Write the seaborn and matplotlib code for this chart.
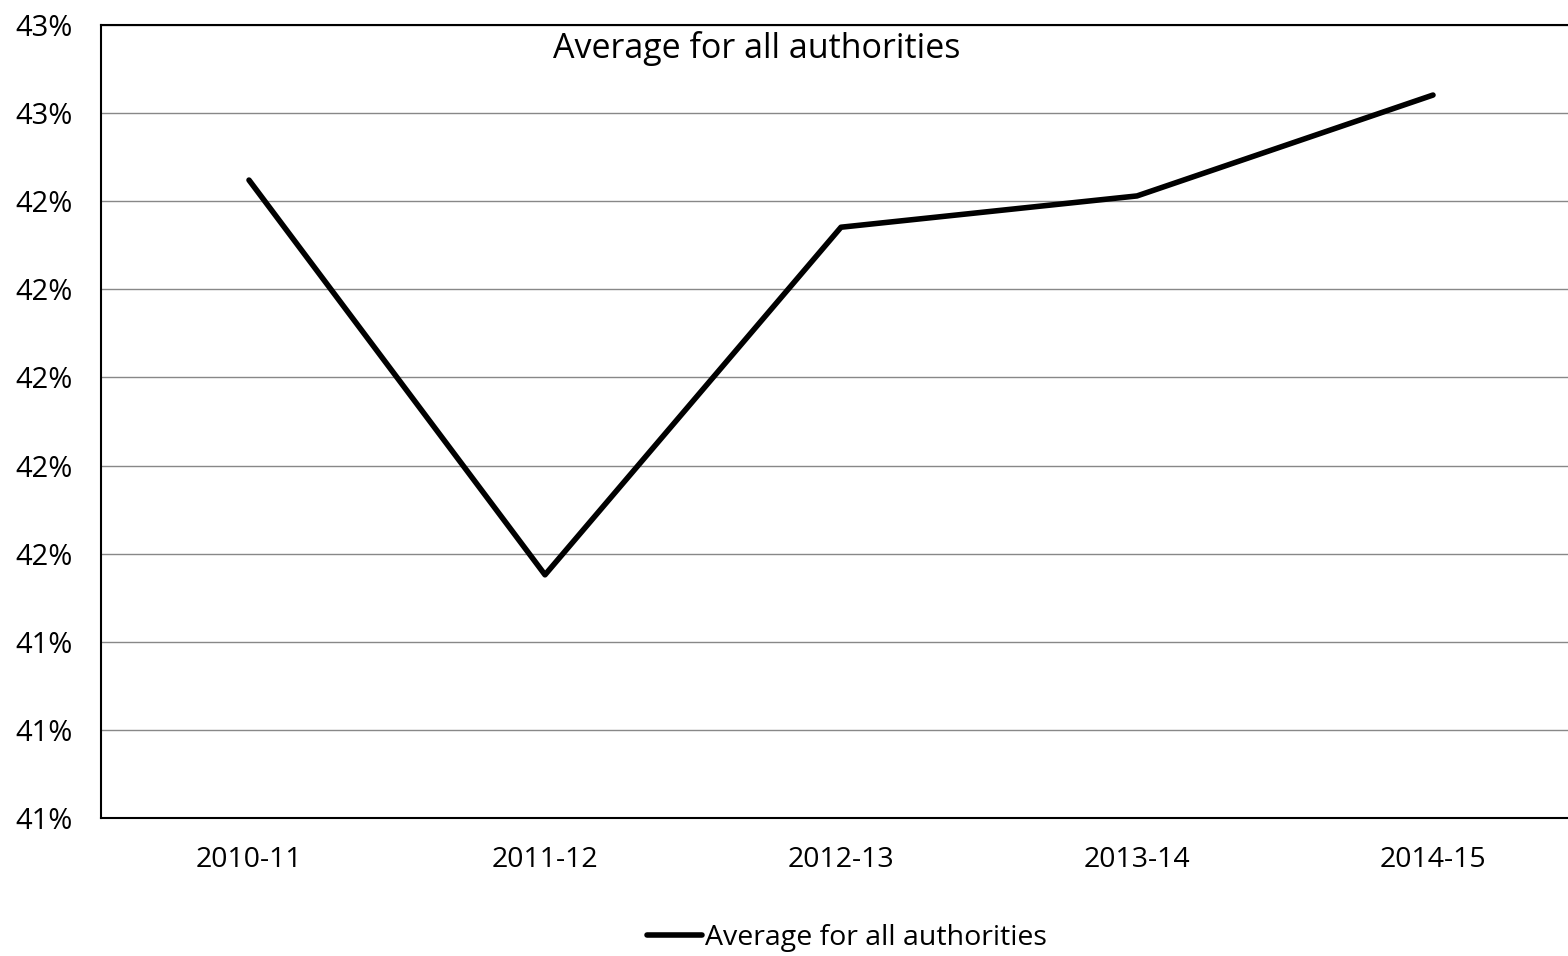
import numpy as np
import pandas as pd
import matplotlib
matplotlib.use('Agg')
import matplotlib.pyplot as plt
import seaborn as sns
from matplotlib.ticker import FuncFormatter

# values
years = ["2010-11", "2011-12", "2012-13", "2013-14", "2014-15"]
average = [0.42348, 0.41452, 0.42241, 0.42312, 0.42541]
series_name = "Average for all authorities"

y_ticks = [0.409, 0.411, 0.413, 0.415, 0.417, 0.419, 0.421, 0.423, 0.425, 0.427]

df = pd.DataFrame({"year": years, "value": average, "series": series_name})

sns.set_style("white")
plt.rcParams['font.family'] = ['Open Sans', 'DejaVu Sans']
plt.rcParams['text.color'] = 'black'
plt.rcParams['xtick.color'] = 'black'
plt.rcParams['ytick.color'] = 'black'

W, H = 1568, 956
fig = plt.figure(figsize=(W / 100, H / 100), dpi=100)
ax = fig.add_axes([101 / W, (H - 818) / H, 1480 / W, 793 / H])

x = np.arange(len(years))
df["x"] = x
sns.lineplot(data=df, x="x", y="value", hue="series", palette=["black"],
             linewidth=4, ax=ax, legend=True, solid_capstyle='round')

ax.set_xlim(-0.5, len(years) - 0.5)
ax.set_ylim(y_ticks[0], y_ticks[-1])
ax.set_yticks(y_ticks)
ax.yaxis.set_major_formatter(FuncFormatter(lambda v, p: f"{int(v * 100 + 0.5 + 1e-9)}%"))
ax.set_xticks(np.arange(-0.5, len(years)), minor=False)
ax.set_xticklabels([])
ax.set_xticks(x, minor=True)
ax.set_xticklabels(years, minor=True)
ax.tick_params(axis='x', which='minor', length=0, labelsize=20.5, pad=20)
ax.tick_params(axis='x', which='major', length=9, width=1, color='#555555', direction='out')
ax.tick_params(axis='y', length=10, width=1, color='#999999', direction='out', labelsize=21, pad=10)
ax.yaxis.grid(True, color='#888888', linewidth=1)
ax.set_axisbelow(True)
ax.set_xlabel("")
ax.set_ylabel("")

for side in ['left', 'top', 'bottom']:
    ax.spines[side].set_visible(True)
    ax.spines[side].set_color('black')
    ax.spines[side].set_linewidth(1.5)
ax.spines['right'].set_visible(False)

fig.text(757 / W, (H - 48) / H, series_name, ha='center', va='center', fontsize=24.5)

ax.legend_.remove()
handles, labels = ax.get_legend_handles_labels()
fig.legend(handles, labels, loc='center', bbox_to_anchor=(847 / W, (H - 938) / H),
           frameon=False, fontsize=20.5, handlelength=1.95, handletextpad=0.1)

fig.savefig("out.png", dpi=100)
